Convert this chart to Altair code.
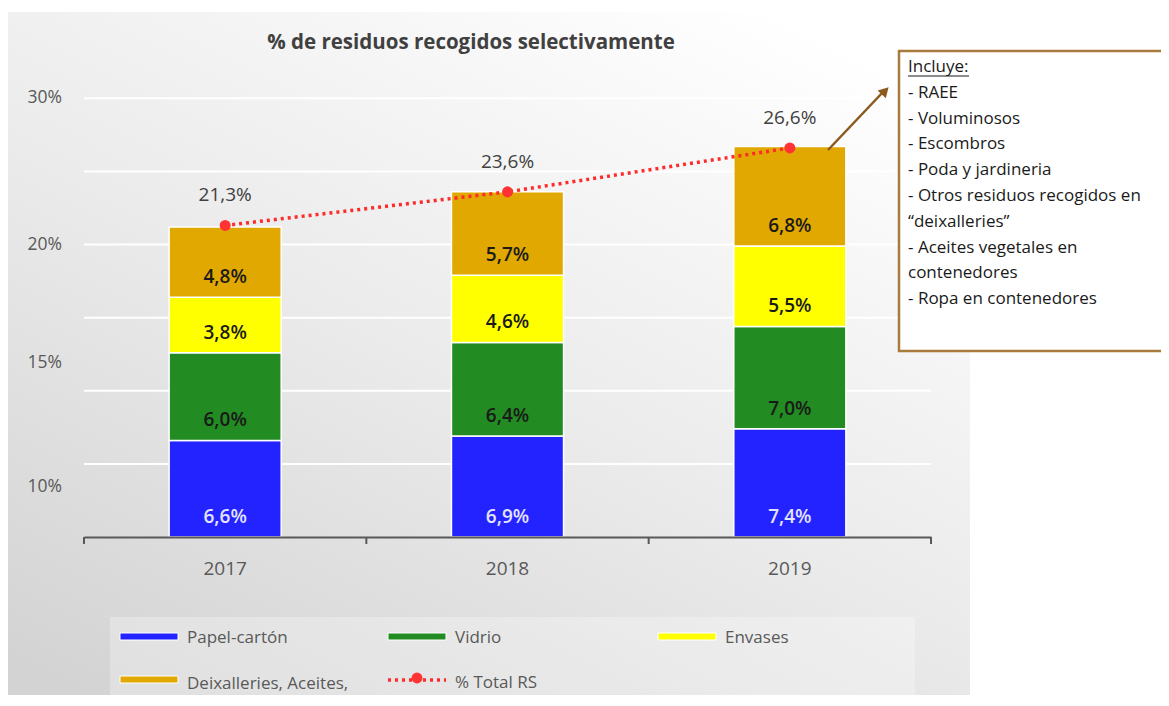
import altair as alt
import pandas as pd

# ---------------- data ----------------
years = ["2017", "2018", "2019"]
series_names = ["Papel-cartón", "Vidrio", "Envases", "Deixalleries, Aceites,"]
series_colors = ["#2323ff", "#228b22", "#ffff00", "#e0a800"]
papel = [6.6, 6.9, 7.4]
vidrio = [6.0, 6.4, 7.0]
envases = [3.8, 4.6, 5.5]
deixalleries = [4.8, 5.7, 6.8]
total_rs = [21.3, 23.6, 26.6]
line_name = "% Total RS"
grid_values = [5, 10, 15, 20, 25, 30]
ytick_labels = ["10%", "15%", "20%", "30%"]
ytick_positions = [3.4, 11.9, 20, 30]
title_text = "% de residuos recogidos selectivamente"
note_lines = [
    "Incluye:",
    "- RAEE",
    "- Voluminosos",
    "- Escombros",
    "- Poda y jardineria",
    "-  Otros residuos recogidos en",
    "\u201cdeixalleries\u201d",
    "- Aceites vegetales en",
    "contenedores",
    "- Ropa en contenedores",
]

# ---------------- tables ----------------
series_values = [papel, vidrio, envases, deixalleries]
rows = []
for si, (name, vals) in enumerate(zip(series_names, series_values)):
    for y, v in zip(years, vals):
        rows.append({"year": y, "cat": name, "value": v, "idx": si})
bars_df = pd.DataFrame(rows)
tot_df = pd.DataFrame({"year": years, "v": total_rs})
grid_df = pd.DataFrame({"g": grid_values})
ytick_df = pd.DataFrame({"p": ytick_positions, "lab": ytick_labels})

W, H = 847, 468
FONT = "Open Sans"
TXT = "#595959"
one = alt.Data(values=[{"a": 1}])

yscale = alt.Scale(domain=[0, 32], nice=False, zero=True)
xenc = alt.X(
    "year:N",
    scale=alt.Scale(domain=years, paddingInner=0.603, paddingOuter=0.3015),
    axis=alt.Axis(
        title=None, labelAngle=0, labelFontSize=19, labelColor=TXT, labelFont=FONT,
        domainColor="#595959", domainWidth=2, ticks=False,
        labelPadding=22, zindex=1, grid=False,
    ),
)
color_scale = alt.Scale(domain=series_names, range=series_colors)

# background
bg = alt.Chart(one).mark_rect(
    fill={
        "gradient": "linear",
        "x1": 0.8, "y1": 0, "x2": 0.1, "y2": 1,
        "stops": [
            {"offset": 0, "color": "#ffffff"},
            {"offset": 0.5, "color": "#ebebeb"},
            {"offset": 1, "color": "#d3d3d3"},
        ],
    }
).encode(x=alt.value(-76), x2=alt.value(886), y=alt.value(-57), y2=alt.value(640))

grid = alt.Chart(grid_df).mark_rule(color="white", strokeWidth=2).encode(
    y=alt.Y("g:Q", scale=yscale, axis=None), x=alt.value(0), x2=alt.value(W)
)

# category-boundary ticks of the x axis
tick_layers = []
n = len(years)
for i in range(n + 1):
    tick_layers.append(
        alt.Chart(one).mark_rule(color="#595959", strokeWidth=2).encode(
            x=alt.value(i * W / n), y=alt.value(H), y2=alt.value(H + 7)
        )
    )

bars = alt.Chart(bars_df).mark_bar(stroke="white", strokeWidth=1.5).encode(
    x=xenc,
    y=alt.Y("value:Q", stack="zero", scale=yscale, axis=None),
    color=alt.Color("cat:N", scale=color_scale, legend=None),
    order=alt.Order("idx:Q", sort="ascending"),
)

bar_labels = (
    alt.Chart(bars_df)
    .transform_stack(stack="value", groupby=["year"], as_=["v0", "v1"], sort=[alt.SortField("idx", order="ascending")])
    .transform_calculate(lab="replace(format(datum.value, '.1f'), '.', ',') + '%'")
    .mark_text(fontSize=19, font=FONT, fontWeight=600, baseline="middle", dy=-20)
    .encode(
        x=xenc,
        y=alt.Y("v0:Q", scale=yscale, axis=None),
        text="lab:N",
        color=alt.condition(alt.datum.cat == series_names[0], alt.value("#e4e4ff"), alt.value("#1a1a1a")),
    )
)

line = alt.Chart(tot_df).mark_line(color="#ff2a2a", strokeWidth=3.5, strokeDash=[3, 4]).encode(
    x=xenc, y=alt.Y("v:Q", scale=yscale, axis=None)
)
pts = alt.Chart(tot_df).mark_circle(size=120, color="#ff3333", opacity=1).encode(
    x=xenc, y=alt.Y("v:Q", scale=yscale, axis=None)
)
tot_labels = (
    alt.Chart(tot_df)
    .transform_calculate(lab="replace(format(datum.v, '.1f'), '.', ',') + '%'")
    .mark_text(fontSize=19, font=FONT, fontWeight=500, color="#404040", baseline="middle", dy=-30)
    .encode(x=xenc, y=alt.Y("v:Q", scale=yscale, axis=None), text="lab:N")
)

ylabels = alt.Chart(ytick_df).mark_text(
    align="right", baseline="middle", fontSize=17.5, font=FONT, color=TXT
).encode(x=alt.value(-22), y=alt.Y("p:Q", scale=yscale, axis=None), text="lab:N")

title = alt.Chart(one).mark_text(
    fontSize=20.5, font=FONT, fontWeight="bold", color="#404040", align="center", baseline="middle"
).encode(x=alt.value(387), y=alt.value(-26), text=alt.value(title_text))

# legend (built from the series lists)
legend_box = alt.Chart(one).mark_rect(fill="white", fillOpacity=0.28).encode(
    x=alt.value(26), x2=alt.value(831), y=alt.value(548), y2=alt.value(631)
)
leg_x = [36, 304, 574]
leg_y = [568, 611]
legend_layers = [legend_box]
for i, (name, col) in enumerate(zip(series_names, series_colors)):
    cx = leg_x[i % 3]
    cy = leg_y[i // 3]
    legend_layers.append(
        alt.Chart(one).mark_rect(color=col, stroke="white", strokeWidth=1).encode(
            x=alt.value(cx), x2=alt.value(cx + 58), y=alt.value(cy - 4), y2=alt.value(cy + 3)
        )
    )
    legend_layers.append(
        alt.Chart(one).mark_text(align="left", baseline="middle", fontSize=17, font=FONT, color=TXT).encode(
            x=alt.value(cx + 67), y=alt.value(cy + 1 + 3 * (i // 3)), text=alt.value(name)
        )
    )
k = len(series_names)
cx, cy = leg_x[k % 3], leg_y[k // 3]
legend_layers.append(
    alt.Chart(one).mark_rule(color="#ff2a2a", strokeWidth=3.5, strokeDash=[3, 4]).encode(
        x=alt.value(cx), x2=alt.value(cx + 58), y=alt.value(cy)
    )
)
legend_layers.append(
    alt.Chart(one).mark_circle(size=120, color="#ff3333", opacity=1).encode(
        x=alt.value(cx + 29), y=alt.value(cy - 2)
    )
)
legend_layers.append(
    alt.Chart(one).mark_text(align="left", baseline="middle", fontSize=17, font=FONT, color=TXT).encode(
        x=alt.value(cx + 67), y=alt.value(cy + 3), text=alt.value(line_name)
    )
)

# annotation callout
note_box = alt.Chart(one).mark_rect(fill="white", stroke="#a87a3e", strokeWidth=2.5).encode(
    x=alt.value(815), x2=alt.value(1100), y=alt.value(-18), y2=alt.value(282)
)
note_text = alt.Chart(one).mark_text(
    align="left", baseline="alphabetic", fontSize=17, font=FONT, color="#1a1a1a", lineHeight=25.8
).encode(x=alt.value(824), y=alt.value(3), text=alt.value(note_lines))
note_underline = alt.Chart(one).mark_rule(color="#1a1a1a", strokeWidth=1).encode(
    x=alt.value(824), x2=alt.value(885), y=alt.value(7)
)
arrow = alt.Chart(one).mark_rule(color="#8b5a1e", strokeWidth=2.5).encode(
    x=alt.value(744), y=alt.value(81), x2=alt.value(800), y2=alt.value(22)
)
arrow_head = alt.Chart(one).mark_point(
    shape="triangle", filled=True, angle=44, size=130, color="#8b5a1e", opacity=1
).encode(x=alt.value(800), y=alt.value(23))

chart = alt.layer(
    bg, grid, bars, bar_labels, line, pts, tot_labels, ylabels, title, *tick_layers,
    *legend_layers, arrow, arrow_head, note_box, note_text, note_underline,
).properties(
    width=W, height=H,
    autosize=alt.AutoSizeParams(type="none"),
    padding={"left": 76, "top": 61, "right": 230, "bottom": 158},
    background="white",
).configure_view(stroke=None)

chart.save("out.html", embed_options={"renderer": "svg", "actions": False})
